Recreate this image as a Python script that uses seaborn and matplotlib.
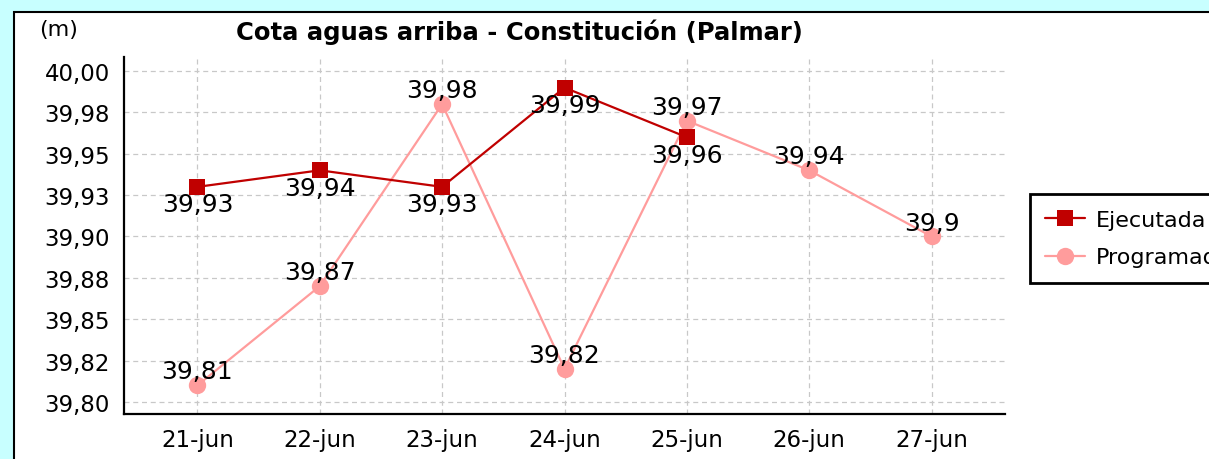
import numpy as np
import pandas as pd
import matplotlib
matplotlib.use("Agg")
import matplotlib.pyplot as plt
from matplotlib.patches import Rectangle
from matplotlib.ticker import FixedLocator, FixedFormatter
import seaborn as sns

# data
days = ["21-jun", "22-jun", "23-jun", "24-jun", "25-jun", "26-jun", "27-jun"]
ejecutada = [39.93, 39.94, 39.93, 39.99, 39.96]
programada = [39.81, 39.87, 39.98, 39.82, 39.97, 39.94, 39.90]
ytick_values = [39.80, 39.825, 39.85, 39.875, 39.90, 39.925, 39.95, 39.975, 40.00]
ytick_labels = ["39,80", "39,82", "39,85", "39,88", "39,90", "39,93", "39,95", "39,98", "40,00"]

COL_EJ = "#c00000"
COL_PR = "#ff9c9c"


def fmt(v):
    s = f"{v:.2f}".rstrip("0").rstrip(".")
    return s.replace(".", ",")


sns.set_theme(style="white")
plt.rcParams["font.family"] = ["DejaVu Sans"]
plt.rcParams["text.color"] = "black"

fig = plt.figure(figsize=(12.09, 4.6), dpi=100)
fig.patch.set_facecolor("#c8ffff")
W, H = 1209, 460

# white panel with black top/left border
fig.patches.append(Rectangle((13.5 / W, -0.2), 1.2, 0.2 + (H - 12.5) / H,
                             transform=fig.transFigure, facecolor="white",
                             edgecolor="black", linewidth=1.5, zorder=-5))

ax = fig.add_axes([124 / W, (H - 415) / H, (1005 - 124) / W, (415 - 58) / H])
ax.set_facecolor("white")

df_ej = pd.DataFrame({"pos": np.arange(len(ejecutada)), "cota": ejecutada})
df_pr = pd.DataFrame({"pos": np.arange(len(programada)), "cota": programada})

sns.lineplot(data=df_ej, x="pos", y="cota", ax=ax, color=COL_EJ, linewidth=1.6,
             marker="s", markersize=11.5, markeredgecolor=COL_EJ, markeredgewidth=0,
             label="Ejecutada", zorder=4)
sns.lineplot(data=df_pr, x="pos", y="cota", ax=ax, color=COL_PR, linewidth=1.6,
             marker="o", markersize=12.5, markeredgecolor=COL_PR, markeredgewidth=0,
             label="Programada", zorder=3)

# value labels: ejecutada below, programada above
for i, v in enumerate(ejecutada):
    ax.annotate(fmt(v), (i, v), xytext=(0, -12.5), textcoords="offset points",
                ha="center", va="center", fontsize=18, color="black", zorder=6)
for i, v in enumerate(programada):
    ax.annotate(fmt(v), (i, v), xytext=(0, 10), textcoords="offset points",
                ha="center", va="center", fontsize=18, color="black", zorder=6)

ax.set_xlim(-0.6, 6.6)
ax.set_ylim(39.7927, 40.0085)
ax.xaxis.set_major_locator(FixedLocator(list(range(len(days)))))
ax.xaxis.set_major_formatter(FixedFormatter(days))
ax.yaxis.set_major_locator(FixedLocator(ytick_values))
ax.yaxis.set_major_formatter(FixedFormatter(ytick_labels))
ax.set_xlabel("")
ax.set_ylabel("")

ax.grid(True, color="#c8c8c8", linestyle=(0, (4, 3)), linewidth=0.9)
ax.set_axisbelow(True)
for side in ["top", "right"]:
    ax.spines[side].set_visible(False)
for side in ["left", "bottom"]:
    ax.spines[side].set_color("black")
    ax.spines[side].set_linewidth(1.6)
ax.tick_params(axis="both", direction="out", length=6, width=1.3, color="black",
               labelsize=16.5, labelcolor="black", pad=4)

fig.text(519.5 / W, 1 - 32 / H, "Cota aguas arriba - Constitución (Palmar)",
         ha="center", va="center", fontsize=17.5, fontweight="bold", color="black")
fig.text(59 / W, 1 - 30 / H, "(m)", ha="center", va="center", fontsize=16,
         color="black")

leg = ax.legend(loc="upper left", bbox_to_anchor=(1.028, 0.616), borderaxespad=0,
                fontsize=16, frameon=True, fancybox=False, framealpha=1,
                edgecolor="black", handlelength=1.8, borderpad=0.7,
                labelspacing=0.8, handletextpad=0.5)
leg.get_frame().set_linewidth(2)
for t in leg.get_texts():
    t.set_color("black")

fig.savefig("out.png", dpi=100, facecolor=fig.get_facecolor())
